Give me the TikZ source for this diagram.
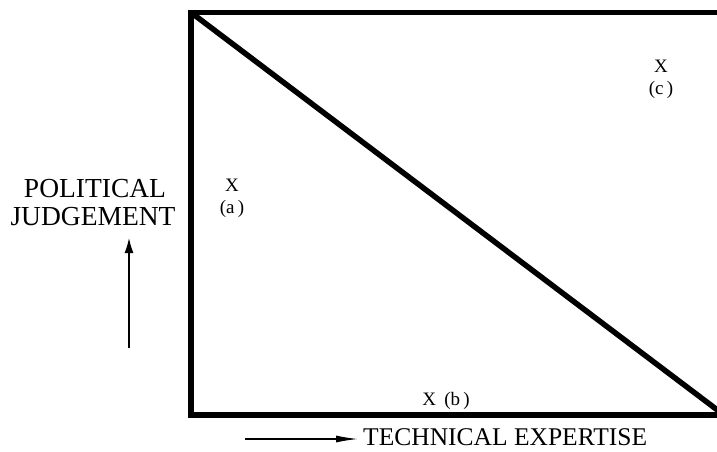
\documentclass[tikz,border=0pt]{standalone}
\usepackage{fontspec}
\setmainfont{Liberation Serif}
\usetikzlibrary{arrows.meta}
\tikzset{
  frame/.style={line width=5.5pt, line join=miter},
  axislabel/.style={inner sep=0pt, anchor=base, font=\fontsize{27.5}{28}\selectfont},
  pointlabel/.style={inner sep=0pt, anchor=north, align=center, font=\fontsize{19}{22}\selectfont},
  axisarrow/.style={line width=1.3pt}
}
\begin{document}
\begin{tikzpicture}[x=1pt,y=-1pt]
\useasboundingbox (0,0) rectangle (717,452);
\clip (0,0) rectangle (717,452);
\fill[white] (0,0) rectangle (717,452);
% frame
\coordinate (tl) at (191,12.5);
\coordinate (bl) at (191,415);
\coordinate (br) at (724,415);
\coordinate (tr) at (724,12.5);
\draw[frame] (tl) -- (bl) -- (br) -- (tr) -- cycle;
\draw[frame] (tl) -- (br);
% labels
\node[axislabel] (pol) at (95,197) {POLITICAL};
\node[axislabel] (judg) at (93,225) {JUDGEMENT};
\node[axislabel, anchor=base west, font=\fontsize{25.5}{28}\selectfont] (tech) at (363,445) {TECHNICAL EXPERTISE};
% arrows
\coordinate (upS) at (129,348);
\coordinate (upE) at (129,238);
\draw[axisarrow, -{Latex[length=15pt,width=9pt]}] (upS) -- (upE);
\coordinate (rtS) at (245,439);
\coordinate (rtE) at (358,439);
\draw[axisarrow, -{Latex[length=22pt,width=7pt]}] (rtS) -- (rtE);
% points
\node[pointlabel] (pa) at (232,179) {X\\(a\,)};
\node[pointlabel, anchor=base] (pb) at (446,405) {X\;\,(b\,)};
\node[pointlabel] (pc) at (661,60) {X\\(c\,)};
\end{tikzpicture}
\end{document}
